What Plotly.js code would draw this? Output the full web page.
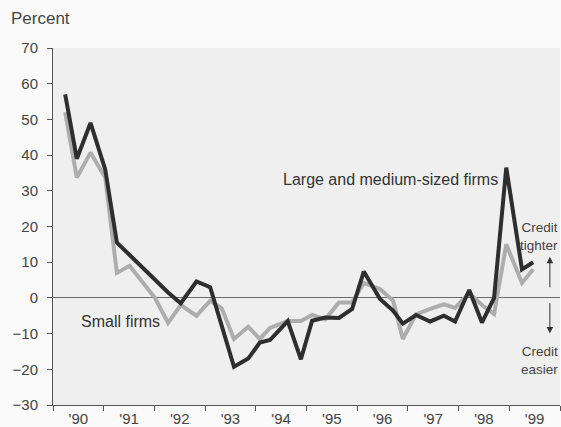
<!DOCTYPE html>
<html>
<head>
<meta charset="utf-8">
<script src="https://cdn.plot.ly/plotly-3.0.1.min.js"></script>
<style>html,body{margin:0;padding:0;background:#fafafa;}#chart{width:561px;height:427px;}</style>
</head>
<body>
<div id="chart"></div>
<script>
// Survey dates (decimal years)
var surveyDates = [1990.24, 1990.47, 1990.74, 1991.03, 1991.26, 1991.51, 1991.76, 1992.01, 1992.27, 1992.52,
  1992.83, 1993.10, 1993.33, 1993.57, 1993.85, 1994.08, 1994.28, 1994.63, 1994.89, 1995.11,
  1995.37, 1995.64, 1995.90, 1996.13, 1996.45, 1996.71, 1996.90, 1997.16, 1997.44, 1997.71,
  1997.93, 1998.21, 1998.46, 1998.70, 1998.94, 1999.25, 1999.47];

var largeMedium = [57, 39, 49, 36, 15.5, 12, 8.5, 5, 1.5, -1.5,
  4.6, 3, -8, -19.3, -17, -12.5, -11.8, -6.5, -17.2, -6.4,
  -5.5, -5.6, -3.1, 7.4, -0.3, -3.6, -7.2, -4.8, -6.6, -5,
  -6.6, 2.2, -6.9, 0, 36.5, 8, 10];

var smallFirms = [52, 33.7, 40.7, 33.7, 7, 9, 4.5, 0, -7, -2,
  -5, -0.8, -3, -11.5, -8.1, -11.5, -8.4, -6.5, -6.5, -4.8,
  -6, -1.3, -1.3, 4.2, 2.5, -0.8, -11.5, -4.6, -3.1, -1.8,
  -2.8, 1.3, -2, -4.5, 15, 4.2, 8];

var yearLabelPos = [1990.5, 1991.5, 1992.5, 1993.5, 1994.5, 1995.5, 1996.5, 1997.5, 1998.5, 1999.5];
var yearLabels = ["'90", "'91", "'92", "'93", "'94", "'95", "'96", "'97", "'98", "'99"];
var yearBounds = [1990, 1991, 1992, 1993, 1994, 1995, 1996, 1997, 1998, 1999, 2000];
var yTicks = [-30, -20, -10, 0, 10, 20, 30, 40, 50, 60, 70];

var font = "Liberation Sans, Arial, Helvetica, sans-serif";

var traces = [
  {x: surveyDates, y: smallFirms, type: 'scatter', mode: 'lines', name: 'Small firms',
   line: {color: '#adadad', width: 4}, hoverinfo: 'x+y'},
  {x: surveyDates, y: largeMedium, type: 'scatter', mode: 'lines', name: 'Large and medium-sized firms',
   line: {color: '#2e2e2e', width: 4}, hoverinfo: 'x+y'}
];

var layout = {
  width: 561, height: 427,
  margin: {l: 53, r: 1, t: 48, b: 22},
  paper_bgcolor: '#fafafa',
  plot_bgcolor: '#efefef',
  showlegend: false,
  font: {family: font, size: 15, color: '#444'},
  title: {text: 'Percent', x: 11/561, xanchor: 'left', xref: 'container', y: 1 - 18/427, yanchor: 'middle', yref: 'container',
          font: {family: font, size: 17, color: '#444'}},
  xaxis: {
    range: [1990, 2000], showgrid: false, zeroline: false,
    showline: true, linecolor: '#555', linewidth: 1,
    tickmode: 'array', tickvals: yearLabelPos, ticktext: yearLabels, ticks: '',
    tickfont: {family: font, size: 15, color: '#444'},
    minor: {tickmode: 'array', tickvals: yearBounds, ticks: 'outside', ticklen: 5, tickcolor: '#555', tickwidth: 1, showgrid: false},
    fixedrange: true
  },
  yaxis: {
    range: [-30, 70], showgrid: false,
    zeroline: true, zerolinecolor: '#6a6a6a', zerolinewidth: 1,
    showline: true, linecolor: '#555', linewidth: 1,
    tickmode: 'array', tickvals: yTicks, ticks: 'outside', ticklen: 5, tickcolor: '#555',
    ticklabelstandoff: 6,
    tickfont: {family: font, size: 15, color: '#444'},
    fixedrange: true
  },
  annotations: [
    {text: 'Large and medium-sized firms', x: 1996.65, y: 33.3, xref: 'x', yref: 'y', showarrow: false,
     xanchor: 'center', yanchor: 'middle', font: {family: font, size: 16, color: '#333'}},
    {text: 'Small firms', x: 1991.34, y: -6.7, xref: 'x', yref: 'y', showarrow: false,
     xanchor: 'center', yanchor: 'middle', font: {family: font, size: 16, color: '#333'}},
    {text: 'Credit<br>tighter', x: 1, xref: 'paper', y: 17.2, yref: 'y', showarrow: false,
     xanchor: 'right', yanchor: 'middle', align: 'right', font: {family: font, size: 13.5, color: '#444'}},
    {text: 'Credit<br>easier', x: 1, xref: 'paper', y: -17.5, yref: 'y', showarrow: false,
     xanchor: 'right', yanchor: 'middle', align: 'right', font: {family: font, size: 13.5, color: '#444'}},
    {text: '', x: 1999.8, y: 11.5, xref: 'x', yref: 'y', ax: 0, ay: 32, showarrow: true,
     arrowhead: 2, arrowsize: 1.3, arrowwidth: 1, arrowcolor: '#333'},
    {text: '', x: 1999.8, y: -10, xref: 'x', yref: 'y', ax: 0, ay: -32, showarrow: true,
     arrowhead: 2, arrowsize: 1.3, arrowwidth: 1, arrowcolor: '#333'}
  ]
};

Plotly.newPlot('chart', traces, layout, {displayModeBar: false, staticPlot: true});
</script>
</body>
</html>
